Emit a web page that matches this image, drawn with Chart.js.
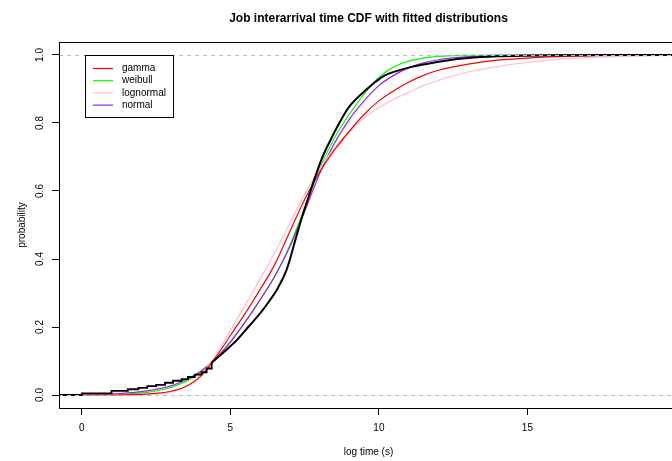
<!DOCTYPE html>
<html>
<head>
<meta charset="utf-8">
<script src="https://cdn.jsdelivr.net/npm/chart.js@4.4.1/dist/chart.umd.min.js"></script>
<style>
  html, body { margin: 0; padding: 0; background: #fff; overflow: hidden; }
  #wrap { width: 690px; height: 461px; }
</style>
</head>
<body>
<div id="wrap"><canvas id="cdf" width="690" height="461"></canvas></div>
<script>
const fitX = [0, 1, 2, 2.5, 3, 3.5, 4, 4.5, 5, 5.5, 6, 6.5, 7, 7.5, 8, 8.5, 9, 9.5, 10, 10.5, 11, 11.5, 12, 13, 14, 15, 16, 17, 18, 20.1];
const gammaY = [0, 0, 0.002, 0.005, 0.011, 0.025, 0.055, 0.11, 0.175, 0.24, 0.31, 0.385, 0.48, 0.575, 0.655, 0.72, 0.775, 0.825, 0.865, 0.895, 0.92, 0.94, 0.955, 0.973, 0.985, 0.991, 0.995, 0.997, 0.999, 1];
const weibullY = [0, 0.001, 0.006, 0.012, 0.022, 0.04, 0.066, 0.105, 0.157, 0.215, 0.28, 0.35, 0.44, 0.55, 0.665, 0.755, 0.825, 0.885, 0.935, 0.965, 0.982, 0.991, 0.996, 0.999, 1, 1, 1, 1, 1, 1];
const lognormalY = [0, 0, 0.001, 0.003, 0.009, 0.025, 0.06, 0.115, 0.19, 0.265, 0.34, 0.42, 0.505, 0.59, 0.665, 0.725, 0.775, 0.815, 0.845, 0.87, 0.89, 0.91, 0.925, 0.95, 0.966, 0.978, 0.987, 0.992, 0.995, 0.999];
const normalY = [0.001, 0.003, 0.01, 0.017, 0.027, 0.045, 0.07, 0.107, 0.155, 0.215, 0.28, 0.35, 0.435, 0.54, 0.65, 0.74, 0.81, 0.865, 0.91, 0.94, 0.962, 0.977, 0.986, 0.995, 0.999, 1, 1, 1, 1, 1];

// empirical CDF: sparse steps at the low end, then dense (looks smooth)
const ecdfStepX = [-0.8, 0, 1.0, 1.55, 1.9, 2.2, 2.5, 2.8, 3.07, 3.36, 3.57, 3.8, 4.03, 4.2, 4.37];
const ecdfStepY = [0, 0.005, 0.012, 0.017, 0.021, 0.026, 0.03, 0.036, 0.042, 0.047, 0.053, 0.06, 0.067, 0.078, 0.095];
const ecdfX = [4.37, 4.8, 5.2, 5.6, 6.0, 6.3, 6.6, 6.9, 7.2, 7.4, 7.6, 7.85, 8.1, 8.4, 8.7, 9.0, 9.3, 9.6, 9.9, 10.2, 10.6, 11.1, 12.3, 13, 14, 15, 16, 17, 18, 20.1];
const ecdfY = [0.095, 0.128, 0.16, 0.2, 0.24, 0.275, 0.315, 0.37, 0.46, 0.52, 0.574, 0.64, 0.70, 0.755, 0.805, 0.848, 0.876, 0.9, 0.922, 0.94, 0.953, 0.965, 0.984, 0.991, 0.996, 0.998, 0.999, 0.9995, 1, 1];

const xTicks = [0, 5, 10, 15];
const yTicks = [0, 0.2, 0.4, 0.6, 0.8, 1.0];
const yTickLabels = ['0.0', '0.2', '0.4', '0.6', '0.8', '1.0'];
const legendNames = ['gamma', 'weibull', 'lognormal', 'normal'];
const legendColors = ['#ff0000', '#00ff00', '#ffc0cb', '#a020f0'];

const FONT = '"Liberation Sans", Arial, Helvetica, sans-serif';

function pts(xs, ys) {
    return xs.map((x, i) => ({ x: x, y: ys[i] }));
}

function fitLine(label, ys, color) {
    return {
        label: label,
        data: pts(fitX, ys),
        borderColor: color,
        borderWidth: 1.2,
        pointRadius: 0,
        cubicInterpolationMode: 'monotone',
        fill: false
    };
}

const rPlot = {
    id: 'rPlot',
    afterDatasetsDraw(chart) {
        const ctx = chart.ctx;
        const a = chart.chartArea;
        const ys = chart.scales.y;
        ctx.save();

        // dashed reference lines at 0 and 1
        ctx.strokeStyle = '#bebebe';
        ctx.lineWidth = 1;
        ctx.setLineDash([4, 4]);
        [0, 1].forEach(v => {
            const py = Math.round(ys.getPixelForValue(v)) + 0.5;
            ctx.beginPath();
            ctx.moveTo(a.left, py);
            ctx.lineTo(a.right, py);
            ctx.stroke();
        });
        ctx.setLineDash([]);

        // box
        ctx.strokeStyle = '#000';
        ctx.strokeRect(Math.round(a.left) + 0.5, Math.round(a.top) + 0.5, a.right - a.left, a.bottom - a.top);

        // y tick labels, rotated like R
        ctx.fillStyle = '#000';
        ctx.font = '10px ' + FONT;
        ctx.textAlign = 'center';
        ctx.textBaseline = 'middle';
        yTicks.forEach((v, i) => {
            ctx.save();
            ctx.translate(40, ys.getPixelForValue(v));
            ctx.rotate(-Math.PI / 2);
            ctx.fillText(yTickLabels[i], 0, 0);
            ctx.restore();
        });

        // axis titles
        ctx.fillText('log time (s)', (a.left + a.right) / 2, 452);
        ctx.save();
        ctx.translate(22, (a.top + a.bottom) / 2);
        ctx.rotate(-Math.PI / 2);
        ctx.fillText('probability', 0, 0);
        ctx.restore();

        // main title
        ctx.font = 'bold 12px ' + FONT;
        ctx.fillText('Job interarrival time CDF with fitted distributions', (a.left + a.right) / 2, 19);

        // legend
        const lx = 85, ly = 55, lw = 88, lh = 62;
        ctx.fillStyle = '#fff';
        ctx.fillRect(lx, ly, lw, lh);
        ctx.strokeStyle = '#000';
        ctx.strokeRect(lx + 0.5, ly + 0.5, lw, lh);
        ctx.font = '10px ' + FONT;
        ctx.textAlign = 'left';
        legendNames.forEach((name, i) => {
            const rowY = 68.5 + i * 12.2;
            ctx.strokeStyle = legendColors[i];
            ctx.lineWidth = 1.2;
            ctx.beginPath();
            ctx.moveTo(93, rowY);
            ctx.lineTo(113, rowY);
            ctx.stroke();
            ctx.fillStyle = '#000';
            ctx.fillText(name, 122, rowY);
        });
        ctx.restore();
    }
};

new Chart(document.getElementById('cdf'), {
    type: 'line',
    data: {
        datasets: [
            {
                label: 'ecdf-steps',
                data: pts(ecdfStepX, ecdfStepY),
                borderColor: '#000',
                borderWidth: 1.8,
                pointRadius: 0,
                stepped: 'before'
            },
            {
                label: 'ecdf',
                data: pts(ecdfX, ecdfY),
                borderColor: '#000',
                borderWidth: 2,
                pointRadius: 0,
                cubicInterpolationMode: 'monotone'
            },
            fitLine('gamma', gammaY, legendColors[0]),
            fitLine('lognormal', lognormalY, legendColors[2]),
            fitLine('normal', normalY, legendColors[3]),
            fitLine('weibull', weibullY, legendColors[1])
        ]
    },
    options: {
        responsive: false,
        animation: false,
        events: [],
        layout: { padding: { top: 42, right: 12, left: 0, bottom: 0 } },
        plugins: {
            legend: { display: false },
            title: { display: false },
            tooltip: { enabled: false }
        },
        scales: {
            x: {
                type: 'linear',
                min: -0.77,
                max: 20.07,
                afterBuildTicks: s => { s.ticks = xTicks.map(v => ({ value: v })); },
                afterFit: s => { s.height = 53; },
                border: { display: false },
                grid: { drawOnChartArea: false, drawTicks: true, tickLength: 7, color: '#000' },
                ticks: { color: '#000', font: { family: FONT, size: 10 }, padding: 7, maxRotation: 0 }
            },
            y: {
                type: 'linear',
                min: -0.0382,
                max: 1.0382,
                afterBuildTicks: s => { s.ticks = yTicks.map(v => ({ value: v })); },
                afterFit: s => { s.width = 59; },
                border: { display: false },
                grid: { drawOnChartArea: false, drawTicks: true, tickLength: 7, color: '#000' },
                ticks: { display: true, callback: () => '', padding: 0 }
            }
        }
    },
    plugins: [rPlot]
});
</script>
</body>
</html>
